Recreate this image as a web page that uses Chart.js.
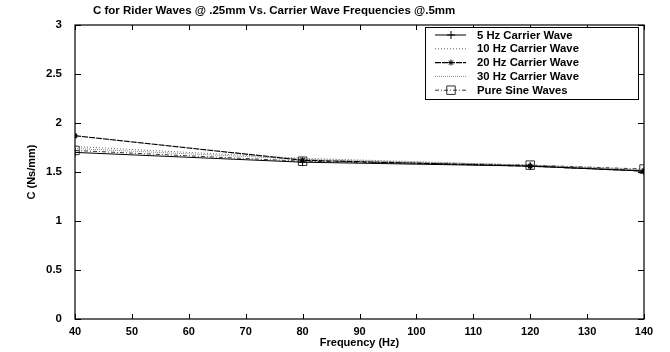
<!DOCTYPE html>
<html lang="en">
<head>
<meta charset="UTF-8">
<title>C for Rider Waves</title>
<script src="https://cdn.jsdelivr.net/npm/chart.js"></script>
<style>
  html, body { margin: 0; padding: 0; background: #fff; }
  #wrap { width: 670px; height: 352px; }
</style>
<script>
    // frequencies (Hz)
    const freqs = [40, 80, 120, 140];
    // C (Ns/mm) for each carrier wave
    const c5Hz   = [1.70, 1.60, 1.56, 1.51];
    const c10Hz  = [1.76, 1.64, 1.57, 1.52];
    const c20Hz  = [1.87, 1.62, 1.56, 1.51];
    const c30Hz  = [1.74, 1.63, 1.57, 1.52];
    const cPure  = [1.72, 1.61, 1.57, 1.53];

    const seriesNames = ['5 Hz Carrier Wave', '10 Hz Carrier Wave', '20 Hz Carrier Wave', '30 Hz Carrier Wave', 'Pure Sine Waves'];
    const xTicks = [40, 50, 60, 70, 80, 90, 100, 110, 120, 130, 140];
    const yTicks = [0, 0.5, 1, 1.5, 2, 2.5, 3];
    const chartTitle = 'C for Rider Waves @ .25mm Vs. Carrier Wave Frequencies @.5mm';

    const FONT = 'Liberation Sans, Arial, sans-serif';

    function pts(vals){
      return freqs.map((f, i) => ({x: f, y: vals[i]}));
    }

    // title, box + inward ticks on all four sides, and the legend inside the plot
    const framePlugin = {
      id: 'frame',
      afterDraw(chart){
        const ctx = chart.ctx;
        const a = chart.chartArea;
        const xs = chart.scales.x, ys = chart.scales.y;
        ctx.save();

        ctx.fillStyle = '#000';
        ctx.font = 'bold 11.5px ' + FONT;
        ctx.textBaseline = 'middle';
        ctx.textAlign = 'left';
        ctx.fillText(chartTitle, 93, 11);

        ctx.strokeStyle = '#000';
        ctx.lineWidth = 1.2;
        ctx.setLineDash([]);
        ctx.strokeRect(a.left, a.top, a.right - a.left, a.bottom - a.top);
        ctx.lineWidth = 1;
        xTicks.forEach(v => {
          const px = Math.round(xs.getPixelForValue(v)) + 0.5;
          ctx.beginPath();
          ctx.moveTo(px, a.bottom); ctx.lineTo(px, a.bottom - 5);
          ctx.moveTo(px, a.top); ctx.lineTo(px, a.top + 5);
          ctx.stroke();
        });
        yTicks.forEach(v => {
          const py = Math.round(ys.getPixelForValue(v)) + 0.5;
          ctx.beginPath();
          ctx.moveTo(a.left, py); ctx.lineTo(a.left + 6, py);
          ctx.moveTo(a.right, py); ctx.lineTo(a.right - 6, py);
          ctx.stroke();
        });

        // legend
        const bx = 425, by = 27, bw = 213, bh = 72;
        ctx.fillStyle = '#fff';
        ctx.fillRect(bx, by, bw, bh);
        ctx.strokeStyle = '#000';
        ctx.lineWidth = 1;
        ctx.strokeRect(bx + 0.5, by + 0.5, bw, bh);
        ctx.font = 'bold 11.3px ' + FONT;
        chart.data.datasets.forEach((ds, i) => {
          const y = by + 8 + i * 13.8;
          ctx.strokeStyle = ds.borderColor;
          ctx.lineWidth = ds.borderWidth;
          ctx.setLineDash(ds.borderDash || []);
          ctx.beginPath();
          ctx.moveTo(435, y); ctx.lineTo(466, y);
          ctx.stroke();
          ctx.setLineDash([]);
          if (ds.pointStyle && ds.pointRadius > 0){
            ctx.fillStyle = ds.pointBackgroundColor;
            ctx.strokeStyle = ds.pointBorderColor;
            ctx.lineWidth = 1;
            Chart.helpers.drawPoint(ctx, {
              pointStyle: ds.pointStyle, radius: ds.pointRadius, borderWidth: 1, rotation: 0
            }, 451, y);
          }
          ctx.fillStyle = '#000';
          ctx.textAlign = 'left';
          ctx.textBaseline = 'middle';
          ctx.fillText(ds.label, 477, y + 0.5);
        });
        ctx.restore();
      }
    };

    window.addEventListener('load', () => {
      const data = {
        datasets: [
          {
            label: seriesNames[0], data: pts(c5Hz),
            borderColor: '#000', borderWidth: 1,
            pointStyle: 'cross', pointRadius: 4, pointBorderColor: '#000', pointBackgroundColor: '#000'
          },
          {
            label: seriesNames[1], data: pts(c10Hz),
            borderColor: '#666', borderWidth: 1, borderDash: [1, 2],
            pointRadius: 0
          },
          {
            label: seriesNames[2], data: pts(c20Hz),
            borderColor: '#000', borderWidth: 1.2, borderDash: [6, 1],
            pointStyle: 'star', pointRadius: 3, pointBorderColor: '#000', pointBackgroundColor: '#000'
          },
          {
            label: seriesNames[3], data: pts(c30Hz),
            borderColor: '#888', borderWidth: 1, borderDash: [1, 1],
            pointRadius: 0
          },
          {
            label: seriesNames[4], data: pts(cPure),
            borderColor: '#333', borderWidth: 1, borderDash: [4, 2, 1, 2],
            pointStyle: 'rect', pointRadius: 6, pointBorderColor: '#333', pointBackgroundColor: 'rgba(255,255,255,0)'
          }
        ]
      };

      const config = {
        type: 'line',
        data: data,
        options: {
          responsive: false,
          animation: false,
          layout: { padding: { left: 0, right: 26, top: 25, bottom: 0 } },
          plugins: {
            legend: { display: false },
            tooltip: { enabled: false },
            title: { display: false }
          },
          scales: {
            x: {
              type: 'linear', min: 40, max: 140,
              afterBuildTicks: s => { s.ticks = xTicks.map(v => ({value: v})); },
              afterFit: s => { s.height = 33; },
              grid: { display: false, drawTicks: false },
              border: { display: false },
              ticks: { color: '#000', padding: 6, maxRotation: 0, font: { family: FONT, size: 11, weight: 'bold' } },
              title: { display: true, text: 'Frequency (Hz)', color: '#000', padding: { top: 0, bottom: 2 }, font: { family: FONT, size: 11, weight: 'bold' } }
            },
            y: {
              min: 0, max: 3,
              afterBuildTicks: s => { s.ticks = yTicks.map(v => ({value: v})); },
              afterFit: s => { s.width = 75; },
              grid: { display: false, drawTicks: false },
              border: { display: false },
              ticks: {
                color: '#000', padding: 13,
                font: { family: FONT, size: 11.5, weight: 'bold' },
                callback: v => String(v)
              },
              title: { display: true, text: 'C (Ns/mm)', color: '#000', padding: { top: 25, bottom: 0 }, font: { family: FONT, size: 11, weight: 'bold' } }
            }
          }
        },
        plugins: [framePlugin]
      };

      new Chart(document.getElementById('myChart'), config);
    });
</script>
</head>
<body>
  <div id="wrap">
    <canvas id="myChart" width="670" height="352"></canvas>
  </div>
</body>
</html>
